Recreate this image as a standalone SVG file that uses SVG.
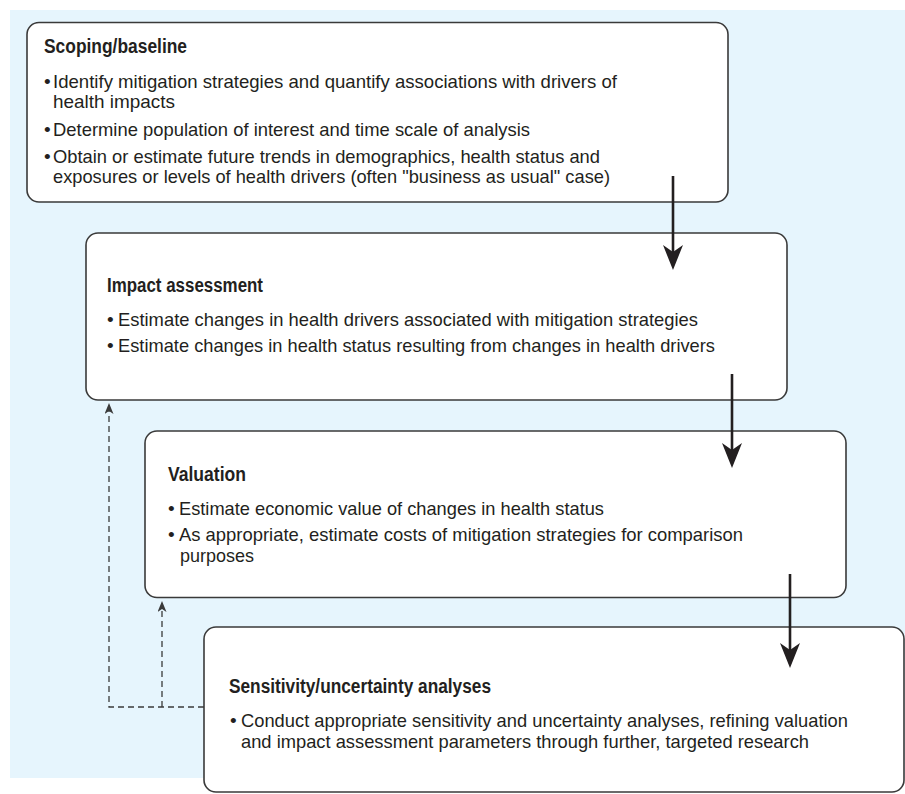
<svg xmlns="http://www.w3.org/2000/svg" width="905" height="794" viewBox="0 0 905 794">
<defs>
<style>
.bg{fill:#e6f5fd;}
.box{fill:#ffffff;stroke:#3a3a3a;stroke-width:1.6;}
.t{font-family:'Liberation Sans',Arial,sans-serif;fill:#231f20;}
.h{font-size:20px;font-weight:bold;}
.b{font-size:19px;}
.solid{stroke:#231f20;stroke-width:2.6;fill:none;}
.dash{stroke:#3a3a3a;stroke-width:1.3;fill:none;stroke-dasharray:6 4;}
</style>
<marker id="bigHead" viewBox="0 0 25 20" refX="7" refY="10" markerWidth="25" markerHeight="20" markerUnits="userSpaceOnUse" orient="auto">
<path d="M0,0 L25,10 L0,20 L7,10 Z" fill="#231f20"/>
</marker>
<marker id="smallHead" viewBox="0 0 11 9" refX="3" refY="4.5" markerWidth="11" markerHeight="9" markerUnits="userSpaceOnUse" orient="auto">
<path d="M0,0 L11,4.5 L0,9 L3,4.5 Z" fill="#3a3a3a"/>
</marker>
</defs>
<rect class="bg" x="10" y="10" width="895" height="768"/>
<g id="connectors">
<path class="dash" d="M204,707 H109 V411" marker-end="url(#smallHead)"/>
<path class="dash" d="M162,707 V609" marker-end="url(#smallHead)"/>
</g>
<g id="node-scoping">
<rect class="box" x="27" y="22.5" width="701" height="179.5" rx="12"/>
<text class="t h" x="44" y="53" textLength="143" lengthAdjust="spacingAndGlyphs">Scoping/baseline</text>
<text class="t b" x="44" y="88">•</text>
<text class="t b" x="53" y="88" textLength="564" lengthAdjust="spacingAndGlyphs">Identify mitigation strategies and quantify associations with drivers of</text>
<text class="t b" x="53" y="108" textLength="122" lengthAdjust="spacingAndGlyphs">health impacts</text>
<text class="t b" x="44" y="136">•</text>
<text class="t b" x="53" y="136" textLength="477" lengthAdjust="spacingAndGlyphs">Determine population of interest and time scale of analysis</text>
<text class="t b" x="44" y="163">•</text>
<text class="t b" x="53" y="163" textLength="547" lengthAdjust="spacingAndGlyphs">Obtain or estimate future trends in demographics, health status and</text>
<text class="t b" x="53" y="183" textLength="557" lengthAdjust="spacingAndGlyphs">exposures or levels of health drivers (often "business as usual" case)</text>
</g>
<g id="node-impact">
<rect class="box" x="86" y="233" width="701" height="167" rx="12"/>
<text class="t h" x="107" y="292" textLength="156" lengthAdjust="spacingAndGlyphs">Impact assessment</text>
<text class="t b" x="107" y="326">•</text>
<text class="t b" x="118" y="326" textLength="580" lengthAdjust="spacingAndGlyphs">Estimate changes in health drivers associated with mitigation strategies</text>
<text class="t b" x="107" y="352">•</text>
<text class="t b" x="118" y="352" textLength="597" lengthAdjust="spacingAndGlyphs">Estimate changes in health status resulting from changes in health drivers</text>
</g>
<g id="node-valuation">
<rect class="box" x="145" y="431" width="701" height="166.5" rx="12"/>
<text class="t h" x="168" y="481" textLength="78" lengthAdjust="spacingAndGlyphs">Valuation</text>
<text class="t b" x="168" y="515">•</text>
<text class="t b" x="179" y="515" textLength="425" lengthAdjust="spacingAndGlyphs">Estimate economic value of changes in health status</text>
<text class="t b" x="168" y="541">•</text>
<text class="t b" x="179" y="541" textLength="564" lengthAdjust="spacingAndGlyphs">As appropriate, estimate costs of mitigation strategies for comparison</text>
<text class="t b" x="180" y="562" textLength="74" lengthAdjust="spacingAndGlyphs">purposes</text>
</g>
<g id="node-sensitivity">
<rect class="box" x="204" y="627" width="700" height="165" rx="12"/>
<text class="t h" x="229" y="693" textLength="262" lengthAdjust="spacingAndGlyphs">Sensitivity/uncertainty analyses</text>
<text class="t b" x="230" y="727">•</text>
<text class="t b" x="241" y="727" textLength="607" lengthAdjust="spacingAndGlyphs">Conduct appropriate sensitivity and uncertainty analyses, refining valuation</text>
<text class="t b" x="241" y="748" textLength="568" lengthAdjust="spacingAndGlyphs">and impact assessment parameters through further, targeted research</text>
</g>
<g id="connectors-solid">
<path class="solid" d="M673,176 V252" marker-end="url(#bigHead)"/>
<path class="solid" d="M732,374 V450" marker-end="url(#bigHead)"/>
<path class="solid" d="M790,574 V650" marker-end="url(#bigHead)"/>
</g>
</svg>
